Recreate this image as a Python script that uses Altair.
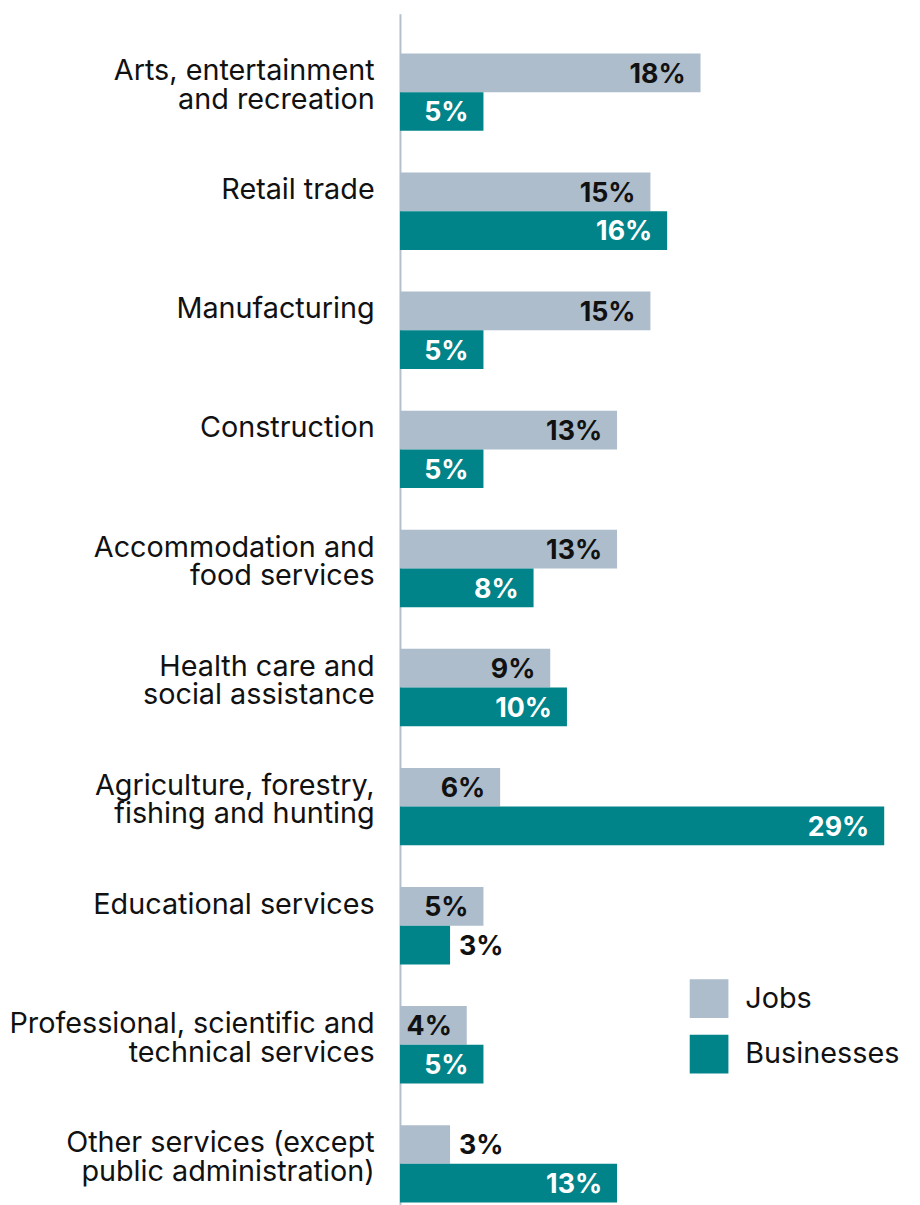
import altair as alt
import pandas as pd

categories = [
    "Arts, entertainment|and recreation",
    "Retail trade",
    "Manufacturing",
    "Construction",
    "Accommodation and|food services",
    "Health care and|social assistance",
    "Agriculture, forestry,|fishing and hunting",
    "Educational services",
    "Professional, scientific and|technical services",
    "Other services (except|public administration)",
]
jobs = [18, 15, 15, 13, 13, 9, 6, 5, 4, 3]
businesses = [5, 16, 5, 5, 8, 10, 29, 3, 5, 13]
series_names = ["Jobs", "Businesses"]
series_colors = ["#adbdcc", "#008489"]

rows = []
for c, j, b in zip(categories, jobs, businesses):
    rows.append({"category": c, "series": "Jobs", "value": j, "label": f"{j}%"})
    rows.append({"category": c, "series": "Businesses", "value": b, "label": f"{b}%"})
df = pd.DataFrame(rows)

FONT = "Inter"

y_enc = alt.Y(
    "category:N",
    sort=categories,
    scale=alt.Scale(paddingInner=0.35, paddingOuter=1 / 3),
    axis=alt.Axis(
        title=None,
        ticks=False,
        domain=True,
        domainColor="#b4c0cc",
        domainWidth=2,
        labelExpr="split(datum.label, '|')",
        labelFont=FONT,
        labelFontSize=29,
        labelColor="#111111",
        labelLineHeight=29,
        labelPadding=26,
        labelBaseline="alphabetic",
        labelOffset=-12,
        labelLimit=0,
    ),
)
yoff_enc = alt.YOffset("series:N", sort=series_names, scale=alt.Scale(paddingInner=0, paddingOuter=0))
x_enc = alt.X("value:Q", scale=alt.Scale(domain=[0, 29], nice=False, zero=True), axis=None)

base = alt.Chart(df)

bars = base.mark_bar(cornerRadius=0).encode(
    x=x_enc,
    y=y_enc,
    yOffset=yoff_enc,
    color=alt.Color(
        "series:N",
        scale=alt.Scale(domain=series_names, range=series_colors),
        sort=series_names,
        legend=alt.Legend(
            title=None,
            orient="none",
            legendX=292,
            legendY=973,
            symbolType="square",
            symbolSize=1521,
            symbolStrokeWidth=0,
            symbolOpacity=1,
            labelFont=FONT,
            labelFontSize=29,
            labelColor="#111111",
            labelOffset=17,
            rowPadding=17,
        ),
    ),
)

inside = base.transform_filter("datum.value >= 4").mark_text(
    align="right", baseline="middle", dx=-15, dy=2, font=FONT, fontSize=27, fontWeight="bold"
).encode(
    x=x_enc,
    y=y_enc,
    yOffset=yoff_enc,
    text="label:N",
    color=alt.condition("datum.series == 'Jobs'", alt.value("#111111"), alt.value("#ffffff")),
)

outside = base.transform_filter("datum.value < 4").mark_text(
    align="left", baseline="middle", dx=9, dy=2, font=FONT, fontSize=27, fontWeight="bold", color="#111111"
).encode(
    x=x_enc,
    y=y_enc,
    yOffset=yoff_enc,
    text="label:N",
)

chart = (
    alt.layer(bars, inside, outside)
    .properties(
        width=488,
        height=1238,
        autosize=alt.AutoSizeParams(type="none"),
        padding={"left": 395, "top": 1, "right": 28, "bottom": 0},
    )
    .configure_view(stroke=None)
)

chart.save("out.html", embed_options={"renderer": "svg", "actions": False})
